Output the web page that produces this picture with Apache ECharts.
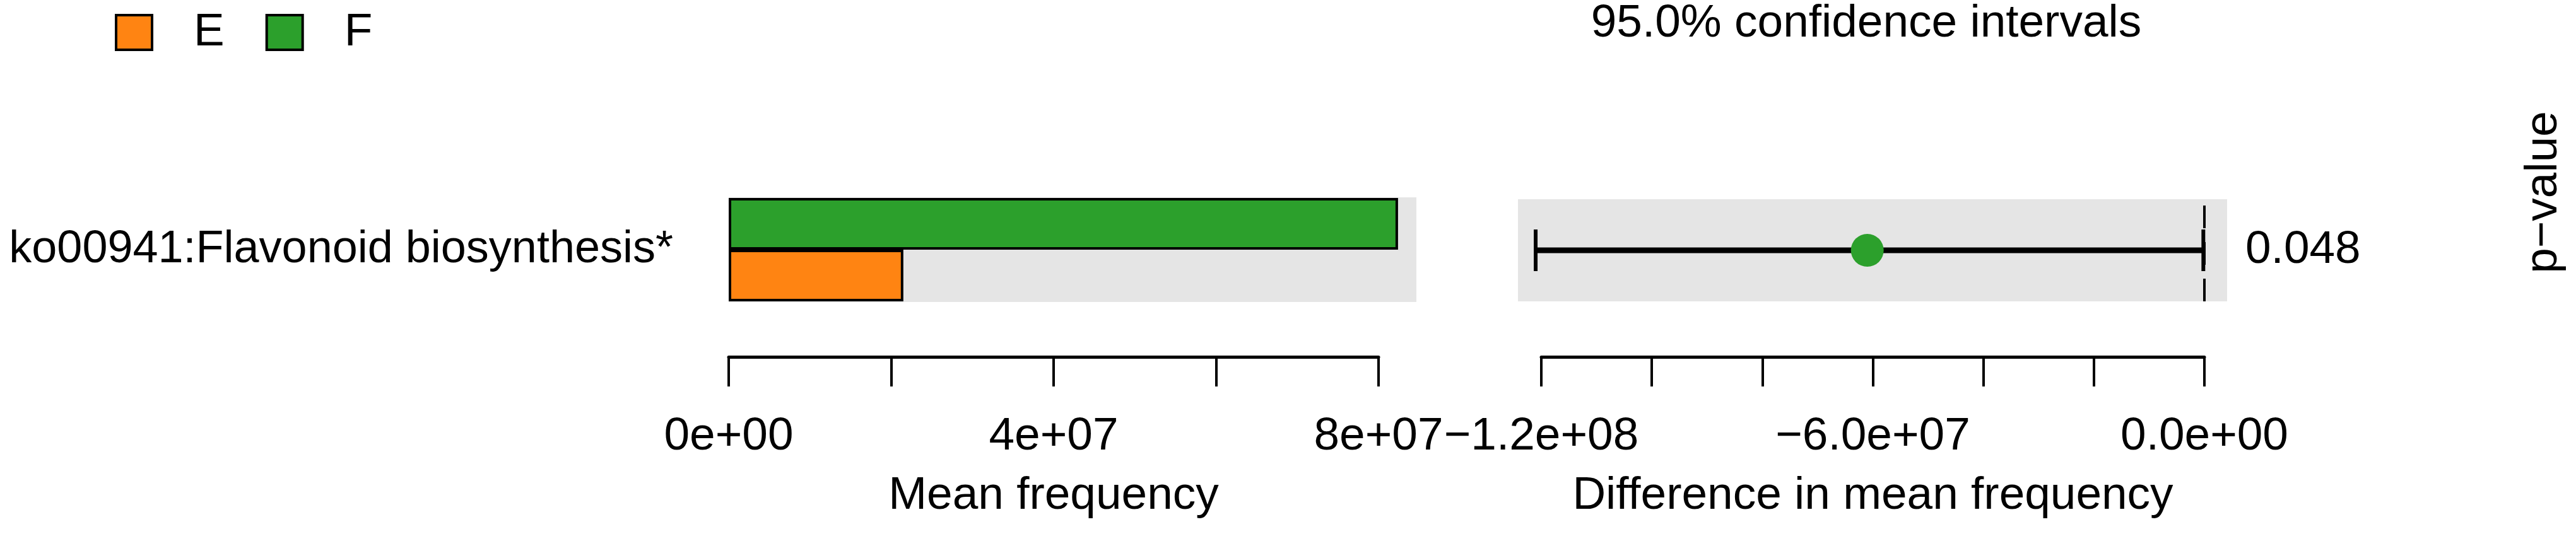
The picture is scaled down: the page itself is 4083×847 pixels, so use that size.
<!DOCTYPE html>
<html><head><meta charset="utf-8">
<script src="https://cdn.jsdelivr.net/npm/echarts@6/dist/echarts.min.js"></script>
<style>html,body{margin:0;padding:0;background:#fff}#c{width:4083px;height:847px}</style>
</head><body><div id="c"></div>
<script>
// ---- data ----
const categories = ['ko00941:Flavonoid biosynthesis*'];
const groups = ['E', 'F'];
const meanE = [2.15e7];
const meanF = [8.24e7];
const diffMean = [-6.1e7];
const ciLow = [-1.21e8];
const ciHigh = [-0.02e7];
const pValues = ['0.048'];
const leftTicks = [0, 4e7, 8e7];
const leftTickLabels = ['0e+00', '4e+07', '8e+07'];
const rightTicks = [-1.2e8, -6e7, 0];
const rightTickLabels = ['\u22121.2e+08', '\u22126.0e+07', '0.0e+00'];

const FONT = '"Liberation Sans", Arial, Helvetica, sans-serif';
const FS = 73;
const ORANGE = '#FF8412';
const GREEN = '#2CA02C';
const GRAY = '#e5e5e5';

function tickFmt(ticks, labels) {
  return function (v) {
    for (let i = 0; i < ticks.length; i++) {
      if (Math.abs(v - ticks[i]) < 1) return labels[i];
    }
    return '';
  };
}

const axisStyle = {
  axisLine: { show: true, lineStyle: { color: '#000', width: 5 } },
  axisTick: { show: true, length: 47, lineStyle: { color: '#000', width: 4 } },
  splitLine: { show: false },
  nameLocation: 'middle',
  nameGap: 184,
  nameTextStyle: { fontFamily: FONT, fontSize: FS, color: '#000' }
};
const hiddenAxis = { show: false, splitLine: { show: false } };

const chart = echarts.init(document.getElementById('c'), null, { renderer: 'canvas' });
chart.setOption({
  animation: false,
  backgroundColor: '#fff',
  textStyle: { fontFamily: FONT, color: '#000' },
  legend: {
    data: groups,
    left: 177, top: 10,
    icon: 'rect',
    itemWidth: 57, itemHeight: 55,
    itemGap: 65,
    itemStyle: { borderColor: '#000', borderWidth: 4 },
    textStyle: { fontFamily: FONT, fontSize: FS, color: '#000', padding: [0, 0, 0, 61] }
  },
  graphic: [
    { type: 'text', style: { text: '95.0% confidence intervals', x: 2958, y: 38, textAlign: 'center', textVerticalAlign: 'middle', font: FS + 'px ' + FONT, fill: '#000' } },
    { type: 'text', rotation: Math.PI / 2, x: 4032, y: 305, style: { text: 'p\u2212value', x: 0, y: 0, textAlign: 'center', textVerticalAlign: 'middle', font: FS + 'px ' + FONT, fill: '#000' } }
  ],
  grid: [
    { left: 1155, top: 313, width: 1090, height: 166, show: true, backgroundColor: GRAY, borderWidth: 0 },
    { left: 1155, top: 520, width: 1030, height: 46 },
    { left: 2406, top: 316, width: 1124, height: 162, show: true, backgroundColor: GRAY, borderWidth: 0 },
    { left: 2443, top: 520, width: 1051, height: 46 }
  ],
  xAxis: [
    Object.assign({ gridIndex: 0, type: 'value', min: 0, max: 8.466e7 }, hiddenAxis),
    Object.assign({ gridIndex: 1, type: 'value', min: 0, max: 8e7, interval: 2e7, name: 'Mean frequency',
      axisLabel: { formatter: tickFmt(leftTicks, leftTickLabels), margin: 90, fontFamily: FONT, fontSize: FS, color: '#000' } }, axisStyle),
    Object.assign({ gridIndex: 2, type: 'value', min: -1.242e8, max: 4.1e6 }, hiddenAxis),
    Object.assign({ gridIndex: 3, type: 'value', min: -1.2e8, max: 0, interval: 2e7, name: 'Difference in mean frequency',
      axisLabel: { formatter: tickFmt(rightTicks, rightTickLabels), margin: 90, fontFamily: FONT, fontSize: FS, color: '#000' } }, axisStyle)
  ],
  yAxis: [
    { gridIndex: 0, type: 'category', data: categories,
      axisLine: { show: false }, axisTick: { show: false }, splitLine: { show: false },
      axisLabel: { margin: 88, fontFamily: FONT, fontSize: 72, color: '#000' } },
    Object.assign({ gridIndex: 1, type: 'value' }, hiddenAxis),
    { gridIndex: 2, type: 'category', data: categories, position: 'right',
      axisLine: { show: false }, axisTick: { show: false }, splitLine: { show: false },
      axisLabel: { margin: 29, fontFamily: FONT, fontSize: FS, color: '#000',
        formatter: function (v, i) { return pValues[i]; } } },
    Object.assign({ gridIndex: 3, type: 'value' }, hiddenAxis)
  ],
  series: [
    { name: 'F', type: 'bar', xAxisIndex: 0, yAxisIndex: 0, data: meanF, barWidth: 82, barGap: '0%',
      itemStyle: { color: GREEN, borderColor: '#000', borderWidth: 4 } },
    { name: 'E', type: 'bar', xAxisIndex: 0, yAxisIndex: 0, data: meanE, barWidth: 82, barGap: '0%',
      itemStyle: { color: ORANGE, borderColor: '#000', borderWidth: 4 } },
    { type: 'custom', xAxisIndex: 2, yAxisIndex: 2,
      data: ciLow.map(function (l, i) { return [l, ciHigh[i], i]; }),
      encode: { x: [0, 1], y: 2 },
      renderItem: function (params, api) {
        const a = api.coord([api.value(0), api.value(2)]);
        const b = api.coord([api.value(1), api.value(2)]);
        const h = 33;
        return { type: 'group', children: [
          { type: 'line', shape: { x1: a[0], y1: a[1], x2: b[0], y2: b[1] }, style: { stroke: '#000', lineWidth: 9 } },
          { type: 'line', shape: { x1: a[0], y1: a[1] - h, x2: a[0], y2: a[1] + h }, style: { stroke: '#000', lineWidth: 6 } },
          { type: 'line', shape: { x1: b[0], y1: b[1] - h, x2: b[0], y2: b[1] + h }, style: { stroke: '#000', lineWidth: 6 } }
        ] };
      },
      z: 3
    },
    { type: 'scatter', xAxisIndex: 2, yAxisIndex: 2,
      data: diffMean.map(function (d, i) { return [d, i]; }),
      symbol: 'circle', symbolSize: 52, itemStyle: { color: GREEN, opacity: 1 }, z: 4,
      markLine: { silent: true, symbol: 'none', label: { show: false },
        lineStyle: { color: '#000', width: 4, type: [36, 22] },
        data: [{ xAxis: 0 }] } }
  ]
});
</script></body></html>
